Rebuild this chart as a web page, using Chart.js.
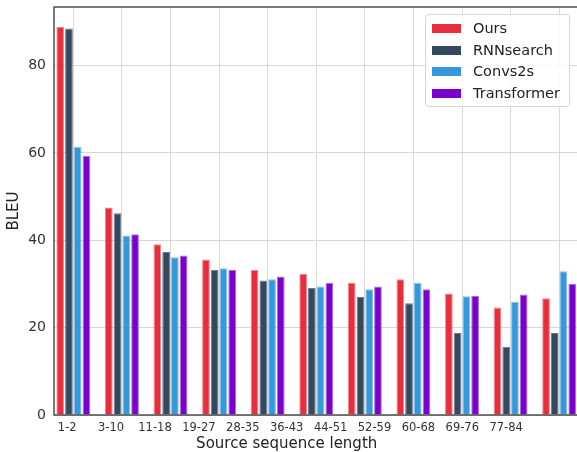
<!DOCTYPE html>
<html>
<head>
<meta charset="utf-8">
<script src="https://cdn.jsdelivr.net/npm/chart.js@4.4.1/dist/chart.umd.min.js"></script>
<style>
  html, body { margin: 0; padding: 0; background: #fff; overflow: hidden; }
  #wrap { position: relative; width: 577px; height: 452px; }
  #legend {
    position: absolute; left: 425px; top: 14px; width: 143px; height: 91px;
    background: rgba(255,255,255,0.85); border: 1px solid #d6d6d6; border-radius: 4px;
    font-family: "DejaVu Sans", sans-serif; font-size: 14.5px; color: #222;
  }
  .item { position: absolute; left: 0; height: 20px; line-height: 20px; white-space: nowrap; }
  .swatch { position: absolute; left: 6px; top: 6px; width: 29px; height: 9px; }
  .label { position: absolute; left: 47px; top: 0; }
</style>
</head>
<body>
<div id="wrap">
  <canvas id="myChart" width="577" height="452"></canvas>
  <div id="legend"></div>
</div>
<script>
// values
var categories = ['1-2', '3-10', '11-18', '19-27', '28-35', '36-43', '44-51', '52-59', '60-68', '69-76', '77-84'];
var seriesNames = ['Ours', 'RNNsearch', 'Convs2s', 'Transformer'];
var ours        = [88.9, 47.5, 39.1, 35.6, 33.2, 32.3, 30.3, 31.1, 27.8, 24.6, 26.7];
var rnnsearch   = [88.5, 46.2, 37.3, 33.2, 30.8, 29.1, 27.0, 25.6, 18.8, 15.6, 18.8];
var convs2s     = [61.4, 41.1, 36.1, 33.6, 31.1, 29.4, 28.8, 30.3, 27.2, 25.9, 32.9];
var transformer = [59.3, 41.4, 36.5, 33.2, 31.7, 30.3, 29.4, 28.8, 27.3, 27.6, 30.0];
var yTicks = [0, 20, 40, 60, 80];

var colors = ['#e82d3d', '#34495e', '#3498db', '#7a00cc'];
var edges  = ['rgba(240,120,130,0.9)', 'rgba(90,110,130,0.9)', 'rgba(120,185,235,0.9)', 'rgba(160,90,220,0.9)'];
var allSeries = [ours, rnnsearch, convs2s, transformer];

var font = '"DejaVu Sans", sans-serif';

// frame round the plot area (top, left, bottom)
var framePlugin = {
    id: 'frame',
    afterDatasetsDraw: function(chart) {
        var a = chart.chartArea;
        var ctx = chart.ctx;
        ctx.save();
        ctx.strokeStyle = '#333';
        ctx.lineWidth = 1.3;
        ctx.strokeRect(a.left, a.top, a.right - a.left + 2, a.bottom - a.top);
        ctx.restore();
    }
};

// x title is centred under the tick labels, not under the bars
var xTitlePlugin = {
    id: 'xTitle',
    afterDraw: function(chart) {
        var s = chart.scales.xl;
        var ctx = chart.ctx;
        ctx.save();
        ctx.font = '15px ' + font;
        ctx.fillStyle = '#222';
        ctx.textAlign = 'center';
        ctx.textBaseline = 'middle';
        ctx.fillText('Source sequence length', s.getPixelForValue((categories.length - 1) / 2), 444);
        ctx.restore();
    }
};

var datasets = seriesNames.map(function(name, k) {
    return {
        label: name,
        data: allSeries[k].map(function(v, i) { return { x: i, y: v }; }),
        backgroundColor: colors[k],
        borderColor: edges[k],
        borderWidth: 1,
        categoryPercentage: 0.72,
        barPercentage: 0.88,
        xAxisID: 'x',
        yAxisID: 'y'
    };
});

var ctx = document.getElementById('myChart').getContext('2d');
window.barChart = new Chart(ctx, {
    type: 'bar',
    data: { datasets: datasets },
    options: {
        responsive: false,
        animation: false,
        layout: { padding: { top: 7, left: 0, right: 0, bottom: 0 } },
        plugins: {
            legend: { display: false },
            tooltip: { enabled: false }
        },
        scales: {
            x: {
                type: 'linear',
                position: 'bottom',
                offset: false,
                min: -0.398,
                max: 10.367,
                afterBuildTicks: function(scale) {
                    scale.ticks = categories.map(function(c, i) { return { value: i }; });
                },
                ticks: { display: false },
                grid: { display: true, offset: false, color: '#d9d9d9', lineWidth: 1, drawTicks: false },
                border: { display: false },
                afterFit: function(scale) { scale.height = 0; scale.paddingLeft = 0; scale.paddingRight = 0; }
            },
            xl: {
                type: 'linear',
                position: 'bottom',
                offset: false,
                min: -0.3007,
                max: 11.613,
                afterBuildTicks: function(scale) {
                    scale.ticks = categories.map(function(c, i) { return { value: i }; });
                },
                ticks: {
                    autoSkip: false,
                    maxRotation: 0,
                    padding: 6,
                    color: '#333',
                    font: { family: font, size: 11.5 },
                    callback: function(v) { return categories[v]; }
                },
                grid: { display: false, offset: false, drawTicks: false },
                border: { display: false },
                afterFit: function(scale) { scale.height = 37; scale.paddingLeft = 0; scale.paddingRight = 0; }
            },
            y: {
                type: 'linear',
                position: 'left',
                min: 0,
                max: 93.4,
                afterBuildTicks: function(scale) {
                    scale.ticks = yTicks.map(function(v) { return { value: v }; });
                },
                ticks: {
                    padding: 8,
                    color: '#333',
                    font: { family: font, size: 14 }
                },
                grid: { color: '#d6d6d6', lineWidth: 1, drawTicks: false },
                border: { display: false },
                title: {
                    display: true,
                    text: 'BLEU',
                    color: '#222',
                    font: { family: font, size: 15 },
                    padding: { top: 5, bottom: 0 }
                },
                afterFit: function(scale) { scale.width = 54; scale.paddingTop = 0; scale.paddingBottom = 0; }
            }
        }
    },
    plugins: [framePlugin, xTitlePlugin]
});

// legend box inside the plot, top right
var legend = document.getElementById('legend');
seriesNames.forEach(function(name, k) {
    var item = document.createElement('div');
    item.className = 'item';
    item.style.top = (3 + k * 21.7) + 'px';
    item.innerHTML = '<span class="swatch" style="background:' + colors[k] + '"></span>' +
                     '<span class="label">' + name + '</span>';
    legend.appendChild(item);
});
</script>
</body>
</html>
